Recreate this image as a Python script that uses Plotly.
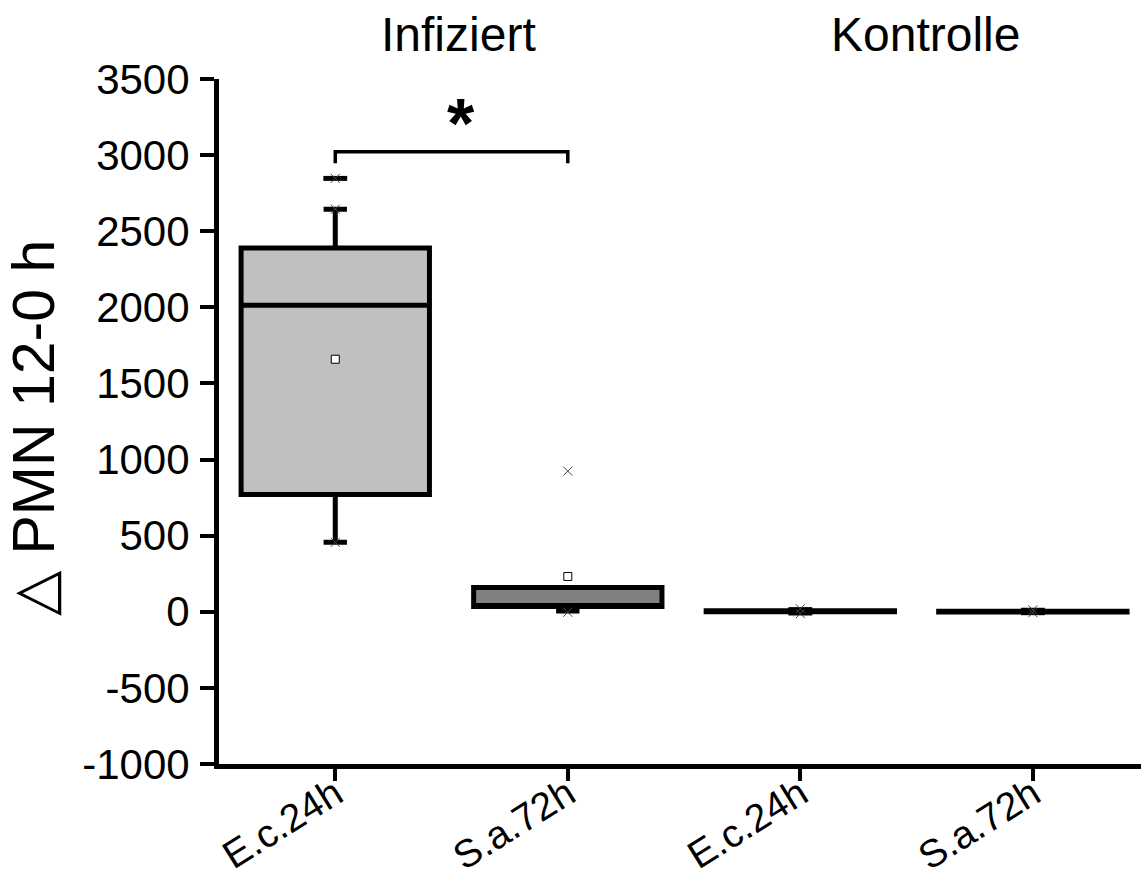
import plotly.graph_objects as go

# ---- data ----
categories = ["E.c.24h", "S.a.72h", "E.c.24h", "S.a.72h"]
positions = [0, 1, 2, 3]
q1 = [771, 35, 0, -2]
median = [2014, 40, 3, 1]
q3 = [2389, 160, 6, 4]
lowerfence = [456, 5, -3, -5]
upperfence = [2645, 160, 10, 8]
means = [1659, 232, None, None]
box_fill = ["#c0c0c0", "#808080", "#c0c0c0", "#c0c0c0"]

# percentile (x) markers
x_mark_pos = [0, 0, 0, 1, 1, 2, 2, 3, 3]
x_mark_val = [2847, 2645, 456, 924, -3, 20, -12, 12, -6]
# min / max dashes
dash_pos = [0, 2, 2, 3, 3]
dash_val = [2847, 14, -8, 10, -6]

# significance bracket
bracket_x = [0, 0, 1, 1]
bracket_y = [2947, 3022, 3022, 2947]

group_labels = ["Infiziert", "Kontrolle"]
group_label_x = [0.529, 2.538]

y_ticks = [-1000, -500, 0, 500, 1000, 1500, 2000, 2500, 3000, 3500]
y_tick_text = ["-1000", "-500", "0", "500", "1000", "1500", "2000", "2500", "3000", "3500"]

FONT = "Liberation Sans, Arial, sans-serif"

fig = go.Figure()

for i, p in enumerate(positions):
    fig.add_trace(go.Box(
        x=[p], q1=[q1[i]], median=[median[i]], q3=[q3[i]],
        lowerfence=[lowerfence[i]], upperfence=[upperfence[i]],
        width=0.81, whiskerwidth=0.124, boxpoints=False,
        fillcolor=box_fill[i], line=dict(color="black", width=5),
        showlegend=False, hoverinfo="skip",
    ))

fig.add_trace(go.Scatter(
    x=dash_pos, y=dash_val, mode="markers",
    marker=dict(symbol="line-ew", size=17, color="black",
                line=dict(color="black", width=5)),
    showlegend=False, hoverinfo="skip",
))

fig.add_trace(go.Scatter(
    x=x_mark_pos, y=x_mark_val, mode="markers",
    marker=dict(symbol="x-thin", size=9, color="#444",
                line=dict(color="#444", width=1)),
    showlegend=False, hoverinfo="skip",
))

fig.add_trace(go.Scatter(
    x=positions, y=means, mode="markers",
    marker=dict(symbol="square", size=8, color="white",
                line=dict(color="black", width=1)),
    showlegend=False, hoverinfo="skip",
))

fig.add_trace(go.Scatter(
    x=bracket_x, y=bracket_y, mode="lines",
    line=dict(color="black", width=3.5),
    showlegend=False, hoverinfo="skip",
))

fig.add_annotation(x=0.54, y=3204, xref="x", yref="y", text="<b>*</b>",
                   showarrow=False, font=dict(family=FONT, size=70, color="black"),
                   xanchor="center", yanchor="middle")

for lbl, gx in zip(group_labels, group_label_x):
    fig.add_annotation(x=gx, y=1.065, xref="x", yref="paper", text=lbl,
                       showarrow=False, font=dict(family=FONT, size=48, color="black"),
                       xanchor="center", yanchor="middle")

fig.add_annotation(x=-0.2, y=0.49, xref="paper", yref="paper",
                   text="△ PMN 12-0 h", textangle=-90, showarrow=False,
                   font=dict(family=FONT, size=59, color="black"),
                   xanchor="center", yanchor="middle")

fig.update_layout(
    width=1141, height=883,
    margin=dict(l=219, r=0, t=79, b=119),
    paper_bgcolor="white", plot_bgcolor="white",
    boxmode="overlay",
    font=dict(family=FONT, size=42, color="black"),
)

fig.update_xaxes(
    range=[-0.5, 3.465], tickmode="array", tickvals=positions, ticktext=categories,
    tickangle=-32, ticks="outside", ticklen=12, tickwidth=4, tickcolor="black",
    showline=True, linewidth=5, linecolor="black", showgrid=False, zeroline=False,
    tickfont=dict(family=FONT, size=39, color="black"), automargin=False,
    ticklabelstandoff=-25,
)
fig.update_yaxes(
    range=[-1000, 3500], tickmode="array", tickvals=y_ticks, ticktext=y_tick_text,
    ticks="outside", ticklen=14, tickwidth=4, tickcolor="black",
    showline=True, linewidth=5, linecolor="black", showgrid=False, zeroline=False,
    tickfont=dict(family=FONT, size=42, color="black"), ticklabelstandoff=2,
    automargin=False,
)

fig.write_html("out.html")
